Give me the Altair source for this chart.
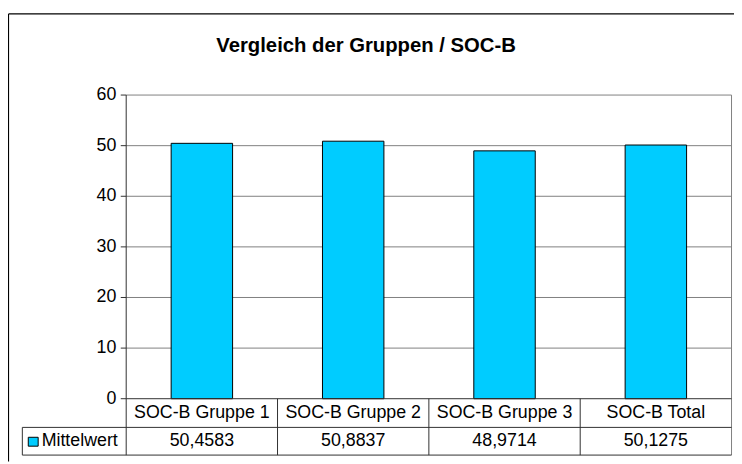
import altair as alt
import pandas as pd

# ---- data ----
categories = ["SOC-B Gruppe 1", "SOC-B Gruppe 2", "SOC-B Gruppe 3", "SOC-B Total"]
values = [50.4583, 50.8837, 48.9714, 50.1275]
series_name = "Mittelwert"
title_text = "Vergleich der Gruppen / SOC-B"
y_ticks = [0, 10, 20, 30, 40, 50, 60]

# ---- layout helpers (page pixels -> data units) ----
W, H = 734, 456
LEFT = 127.5
COL = 153.0
ZERO = 400.5
PPU = 307.0 / 60.0


def ux(px):
    return (px - LEFT) / COL


def vy(py):
    return (ZERO - py) / PPU


xs = alt.Scale(domain=[ux(8), ux(8 + W)], nice=False, zero=False)
ys = alt.Scale(domain=[vy(8 + H), vy(8)], nice=False, zero=False)

FONT = "Liberation Sans"
FS = 18
BAR = "#00CCFF"
n = len(categories)
half = 0.203

bars = pd.DataFrame({
    "cat": categories,
    "value": values,
    "x": [i + 0.5 - half for i in range(n)],
    "x2": [i + 0.5 + half for i in range(n)],
    "y0": [0.0] * n,
})

cells = pd.DataFrame({
    "cat": categories,
    "value": values,
    "xc": [i + 0.5 for i in range(n)],
})


def seg_df(segs):
    return pd.DataFrame(segs, columns=["x", "x2", "y", "y2"])


bottom = vy(457.5)
row1 = vy(429.5)

grid_segs = [(0, n, t, t) for t in y_ticks[1:]] + [(n, n, bottom, y_ticks[-1])]
dark_segs = (
    [(0, 0, bottom, y_ticks[-1])]
    + [(ux(122), 0, t, t) for t in y_ticks]
    + [(0, n, 0, 0)]
    + [(ux(22.5), n, row1, row1), (ux(22.5), n, bottom, bottom)]
    + [(ux(22.5), ux(22.5), bottom, row1)]
    + [(i, i, bottom, 0) for i in range(1, n)]
)
frame_segs = [
    (ux(8.5), ux(8.5), vy(8 + H), vy(11.5)),
    (ux(8.5), ux(8 + W), vy(11.5), vy(11.5)),
]


def rules(segs, color, width=1):
    return alt.Chart(seg_df(segs)).mark_rule(color=color, strokeWidth=width).encode(
        x=alt.X("x:Q", scale=xs, axis=None),
        x2="x2:Q",
        y=alt.Y("y:Q", scale=ys, axis=None),
        y2="y2:Q",
    )


grid = rules(grid_segs, "#808080")
dark = rules(dark_segs, "#303030")
frame = rules(frame_segs, "#000000", 1.2)

bar_layer = alt.Chart(bars).mark_rect(fill=BAR, stroke="#000000", strokeWidth=1).encode(
    x=alt.X("x:Q", scale=xs, axis=None),
    x2="x2:Q",
    y=alt.Y("value:Q", scale=ys, axis=None),
    y2="y0:Q",
)

tick_df = pd.DataFrame({"t": y_ticks, "xl": [ux(117.5)] * len(y_ticks)})
tick_labels = alt.Chart(tick_df).mark_text(
    align="right", baseline="middle", font=FONT, fontSize=FS, color="#000000"
).encode(
    x=alt.X("xl:Q", scale=xs, axis=None),
    y=alt.Y("t:Q", scale=ys, axis=None),
    text=alt.Text("t:Q", format="d"),
)

cat_text = alt.Chart(cells).mark_text(
    align="center", baseline="middle", font=FONT, fontSize=FS, color="#000000"
).transform_calculate(yy=str(vy(415))).encode(
    x=alt.X("xc:Q", scale=xs, axis=None),
    y=alt.Y("yy:Q", scale=ys, axis=None),
    text="cat:N",
)

val_text = alt.Chart(cells).mark_text(
    align="center", baseline="middle", font=FONT, fontSize=FS, color="#000000"
).transform_calculate(
    yy=str(vy(443.5)),
    label="replace(format(datum.value, '.4f'), '.', ',')",
).encode(
    x=alt.X("xc:Q", scale=xs, axis=None),
    y=alt.Y("yy:Q", scale=ys, axis=None),
    text="label:N",
)

legend_df = pd.DataFrame({
    "name": [series_name],
    "sx": [ux(28.5)], "sx2": [ux(38.5)],
    "sy": [vy(439.5)], "sy2": [vy(448.5)],
    "tx": [ux(42)], "ty": [vy(443.5)],
})
swatch = alt.Chart(legend_df).mark_rect(fill=BAR, stroke="#000000", strokeWidth=1).encode(
    x=alt.X("sx:Q", scale=xs, axis=None),
    x2="sx2:Q",
    y=alt.Y("sy:Q", scale=ys, axis=None),
    y2="sy2:Q",
)
legend_label = alt.Chart(legend_df).mark_text(
    align="left", baseline="middle", font=FONT, fontSize=FS, color="#000000"
).encode(
    x=alt.X("tx:Q", scale=xs, axis=None),
    y=alt.Y("ty:Q", scale=ys, axis=None),
    text="name:N",
)

title_df = pd.DataFrame({"t": [title_text], "x": [ux(370)], "y": [vy(50)]})
title = alt.Chart(title_df).mark_text(
    align="center", baseline="alphabetic", font=FONT, fontSize=20.5, fontWeight="bold",
    color="#000000",
).encode(
    x=alt.X("x:Q", scale=xs, axis=None),
    y=alt.Y("y:Q", scale=ys, axis=None),
    text="t:N",
)

chart = alt.layer(
    grid, bar_layer, dark, frame, tick_labels, cat_text, val_text, swatch, legend_label, title
).properties(
    width=W,
    height=H,
    autosize=alt.AutoSizeParams(type="none"),
    padding=0,
    background="#ffffff",
).configure_view(stroke=None)

chart.save("out.html", embed_options={"renderer": "svg", "actions": False})
